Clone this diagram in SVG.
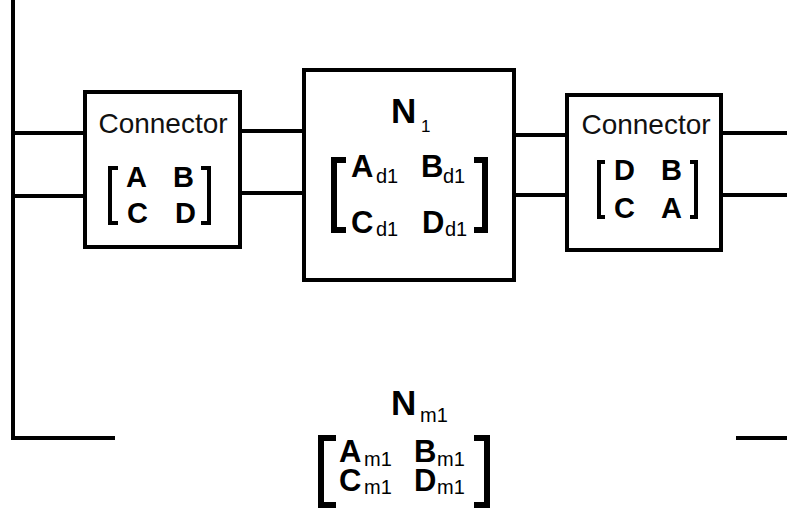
<svg xmlns="http://www.w3.org/2000/svg" width="787" height="514" viewBox="0 0 787 514">
<style>
.box{fill:#fff;stroke:#000;stroke-width:4}
.ln{fill:none;stroke:#000;stroke-width:4}
.br{fill:none;stroke:#000;stroke-width:4}
.brb{fill:none;stroke:#000;stroke-width:6}
.lbl{font-family:"Liberation Sans",Arial,sans-serif;font-size:28px;fill:#111}
.m{font-family:"Liberation Sans",Arial,sans-serif;font-weight:bold;font-size:29px;fill:#000}
.mb{font-family:"Liberation Sans",Arial,sans-serif;font-weight:bold;font-size:31px;fill:#000}
.nn{font-family:"Liberation Sans",Arial,sans-serif;font-weight:bold;font-size:35px;fill:#000}
.s{font-family:"Liberation Sans",Arial,sans-serif;font-size:20px;fill:#000}
.s1{font-family:"Liberation Sans",Arial,sans-serif;font-size:17px;fill:#000}
</style>
<rect width="787" height="514" fill="#fff"/>
<g id="connectors">
<path class="ln" d="M13,0 V438 H115"/>
<path class="ln" d="M736,438 H787"/>
<path class="ln" d="M13,133 H85"/>
<path class="ln" d="M13,196 H85"/>
<path class="ln" d="M240,131 H304"/>
<path class="ln" d="M240,193 H304"/>
<path class="ln" d="M514,135 H567"/>
<path class="ln" d="M514,195 H567"/>
<path class="ln" d="M721,133 H787"/>
<path class="ln" d="M721,195 H787"/>
</g>
<g id="connector1">
<rect class="box" x="85" y="92" width="155" height="155"/>
<text class="lbl" x="163" y="133" text-anchor="middle">Connector</text>
<path class="br" d="M118,168 H110 V223 H118"/>
<path class="br" d="M201,168 H209 V223 H201"/>
<text class="m" x="126" y="187">A</text>
<text class="m" x="173" y="187">B</text>
<text class="m" x="127" y="223">C</text>
<text class="m" x="175" y="223">D</text>
</g>
<g id="N1">
<rect class="box" x="304" y="70" width="210" height="210"/>
<text class="nn" x="391" y="123">N</text>
<text class="s1" x="421" y="132">1</text>
<path class="brb" d="M346,160 H334 V230 H346"/>
<path class="brb" d="M474,160 H485 V230 H474"/>
<text class="mb" x="351" y="177">A</text>
<text class="s" x="376" y="183">d1</text>
<text class="mb" x="421" y="177">B</text>
<text class="s" x="443" y="183">d1</text>
<text class="mb" x="351" y="233">C</text>
<text class="s" x="376" y="236">d1</text>
<text class="mb" x="422" y="233">D</text>
<text class="s" x="445" y="236">d1</text>
</g>
<g id="connector2">
<rect class="box" x="567" y="95" width="154" height="155"/>
<text class="lbl" x="646" y="134" text-anchor="middle">Connector</text>
<path class="br" d="M605,162 H599 V217 H605"/>
<path class="br" d="M690,162 H696 V217 H690"/>
<text class="m" x="614" y="180">D</text>
<text class="m" x="661" y="180">B</text>
<text class="m" x="614" y="218">C</text>
<text class="m" x="661" y="218">A</text>
</g>
<g id="Nm1">
<text class="nn" x="391" y="415">N</text>
<text class="s" x="420" y="422">m1</text>
<path class="brb" d="M336,438 H321 V505 H336"/>
<path class="brb" d="M474,438 H487 V505 H474"/>
<text class="mb" x="339" y="462">A</text>
<text class="s" x="364" y="466">m1</text>
<text class="mb" x="414" y="462">B</text>
<text class="s" x="437" y="466">m1</text>
<text class="mb" x="339" y="491">C</text>
<text class="s" x="364" y="494">m1</text>
<text class="mb" x="414" y="491">D</text>
<text class="s" x="437" y="494">m1</text>
</g>
</svg>
